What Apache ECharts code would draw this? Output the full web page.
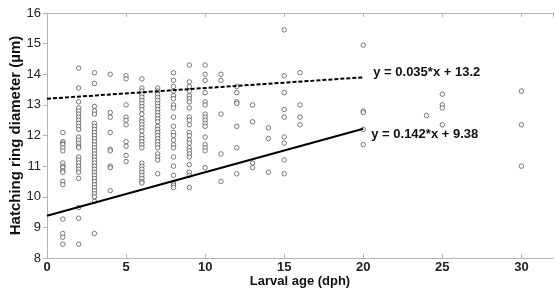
<!DOCTYPE html>
<html>
<head>
<meta charset="utf-8">
<script src="https://cdn.jsdelivr.net/npm/echarts@6/dist/echarts.min.js"></script>
<style>
  html, body { margin: 0; padding: 0; background: #fff; }
  #chart { width: 555px; height: 291px; }
</style>
</head>
<body>
<div id="chart"></div>
<script>
// larval age (dph) of each sampled column
var ages = [1, 2, 3, 4, 5, 6, 7, 8, 9, 10, 11, 12, 13, 14, 15, 16, 20, 24, 25, 30];

// hatching ring diameters (um) read for each age above
var diameters = [
    [12.1, 11.8, 11.75, 11.7, 11.6, 11.5, 11.1, 11.0, 10.95, 10.85, 10.8, 10.5, 10.4, 9.27, 8.8, 8.68, 8.45],
    [14.2, 13.55, 13.1, 12.9, 12.8, 12.7, 12.6, 12.5, 12.4, 12.3, 12.2, 11.95, 11.85, 11.75, 11.65, 11.6, 11.3, 11.2, 11.1, 11.0, 10.9, 10.8, 10.6, 9.65, 9.3, 8.45],
    [14.05, 13.7, 12.95, 12.8, 12.7, 12.4, 12.3, 12.2, 12.1, 12.0, 11.9, 11.8, 11.7, 11.6, 11.5, 11.4, 11.3, 11.2, 11.1, 11.0, 10.9, 10.8, 10.7, 10.6, 10.5, 10.4, 10.3, 10.2, 10.1, 10.0, 9.85, 8.8],
    [14.0, 12.75, 12.6, 12.1, 11.55, 11.5, 11.0, 10.95, 10.2],
    [13.95, 13.85, 13.0, 12.6, 12.5, 12.35, 11.8, 11.65, 11.35, 11.15],
    [13.85, 13.55, 13.45, 13.35, 13.25, 13.15, 13.05, 12.95, 12.85, 12.7, 12.55, 12.45, 12.35, 12.25, 12.15, 12.0, 11.9, 11.8, 11.7, 11.6, 11.1, 11.0, 10.9, 10.8, 10.7, 10.6, 10.5, 10.45],
    [13.55, 13.45, 13.35, 13.25, 13.15, 13.05, 12.95, 12.85, 12.75, 12.65, 12.55, 12.45, 12.3, 12.2, 12.1, 12.0, 11.9, 11.8, 11.7, 11.6, 11.4, 11.3, 11.2, 10.75],
    [14.05, 13.8, 13.6, 13.45, 13.3, 13.2, 13.0, 12.9, 12.6, 12.3, 12.1, 12.0, 11.85, 11.7, 11.6, 11.3, 11.0, 10.7, 10.45, 10.38, 10.3],
    [14.3, 13.75, 13.6, 13.45, 13.3, 13.2, 13.1, 12.9, 12.6, 12.5, 12.35, 12.1, 12.0, 11.85, 11.75, 11.6, 11.5, 11.4, 11.3, 11.05, 10.8, 10.7, 10.3],
    [14.3, 14.0, 13.8, 13.4, 13.1, 13.0, 12.7, 12.6, 12.5, 12.4, 12.3, 11.95, 11.7, 11.6, 11.5, 10.95],
    [14.0, 13.8, 12.7, 11.4, 10.5],
    [13.6, 13.4, 13.1, 13.05, 12.3, 11.6, 10.75],
    [13.0, 12.45, 11.1, 10.95],
    [12.25, 11.9, 10.8],
    [15.45, 13.95, 13.4, 12.85, 12.6, 11.95, 11.75, 11.2, 10.75],
    [14.05, 13.0, 12.6, 12.35],
    [14.95, 12.8, 12.75, 12.2, 11.7],
    [12.65],
    [13.35, 13.0, 12.9, 12.35],
    [13.45, 12.35, 11.0]
];

// fitted lines: slope, intercept, x range
var upperFit = [0.035, 13.2];
var lowerFit = [0.142, 9.38];
var fitRange = [0, 20];

var points = [];
for (var i = 0; i < ages.length; i++) {
    for (var j = 0; j < diameters[i].length; j++) {
        points.push([ages[i], diameters[i][j]]);
    }
}

function fitLine(fit) {
    return fitRange.map(function(x) { return [x, +(fit[0] * x + fit[1]).toFixed(3)]; });
}
function fitText(fit) {
    return 'y = ' + fit[0] + '*x + ' + fit[1];
}

var chart = echarts.init(document.getElementById('chart'));
var font = 'Arial, "Liberation Sans", sans-serif';
var axisGrey = '#b4b4b4';

var option = {
    animation: false,
    grid: { left: 47, right: 2, top: 13, bottom: 33, outerBoundsMode: 'none' },
    xAxis: [{
        type: 'value', min: 0, max: 32, interval: 5,
        name: 'Larval age (dph)', nameLocation: 'middle', nameGap: 17, nameMoveOverlap: false,
        nameTextStyle: { fontFamily: font, fontSize: 13, fontWeight: 'bold', color: '#111' },
        axisLine: { lineStyle: { color: axisGrey } },
        axisTick: { inside: true, length: 4, lineStyle: { color: axisGrey } },
        axisLabel: { fontFamily: font, fontSize: 13, fontWeight: 'bold', color: '#222', margin: 3, showMaxLabel: false },
        splitLine: { show: false }
    }, {
        type: 'value', min: 0, max: 32, interval: 5, position: 'top',
        axisLine: { lineStyle: { color: axisGrey } },
        axisTick: { inside: true, length: 4, lineStyle: { color: axisGrey } },
        axisLabel: { show: false },
        splitLine: { show: false }
    }],
    yAxis: [{
        type: 'value', min: 8, max: 16, interval: 1,
        name: 'Hatching ring diameter (\u00b5m)', nameLocation: 'middle', nameGap: 24, nameMoveOverlap: false,
        nameTextStyle: { fontFamily: font, fontSize: 15, fontWeight: 'bold', color: '#111' },
        axisLine: { show: true, lineStyle: { color: axisGrey } },
        axisTick: { show: true, length: 4, lineStyle: { color: axisGrey } },
        axisLabel: { fontFamily: font, fontSize: 13, color: '#222', margin: 6 },
        splitLine: { show: false }
    }, {
        type: 'value', min: 8, max: 16, interval: 1, position: 'right',
        axisLine: { show: true, lineStyle: { color: axisGrey } },
        axisTick: { show: true, inside: true, length: 4, lineStyle: { color: axisGrey } },
        axisLabel: { show: false },
        splitLine: { show: false }
    }],
    series: [{
        type: 'scatter',
        data: points,
        symbol: 'circle',
        symbolSize: 4.5,
        itemStyle: { color: '#fff', borderColor: '#333', borderWidth: 0.8 }
    }, {
        type: 'line',
        data: fitLine(upperFit),
        showSymbol: false,
        lineStyle: { color: '#000', width: 2, type: [4, 2] },
        endLabel: {
            show: true, formatter: fitText(upperFit), distance: 10, offset: [0, -5],
            fontFamily: font, fontSize: 13, fontWeight: 'bold', color: '#111'
        }
    }, {
        type: 'line',
        data: fitLine(lowerFit),
        showSymbol: false,
        lineStyle: { color: '#000', width: 2 },
        endLabel: {
            show: true, formatter: fitText(lowerFit), distance: 8, offset: [0, 6],
            fontFamily: font, fontSize: 13, fontWeight: 'bold', color: '#111'
        }
    }]
};

chart.setOption(option);
window.onresize = chart.resize;
</script>
</body>
</html>
